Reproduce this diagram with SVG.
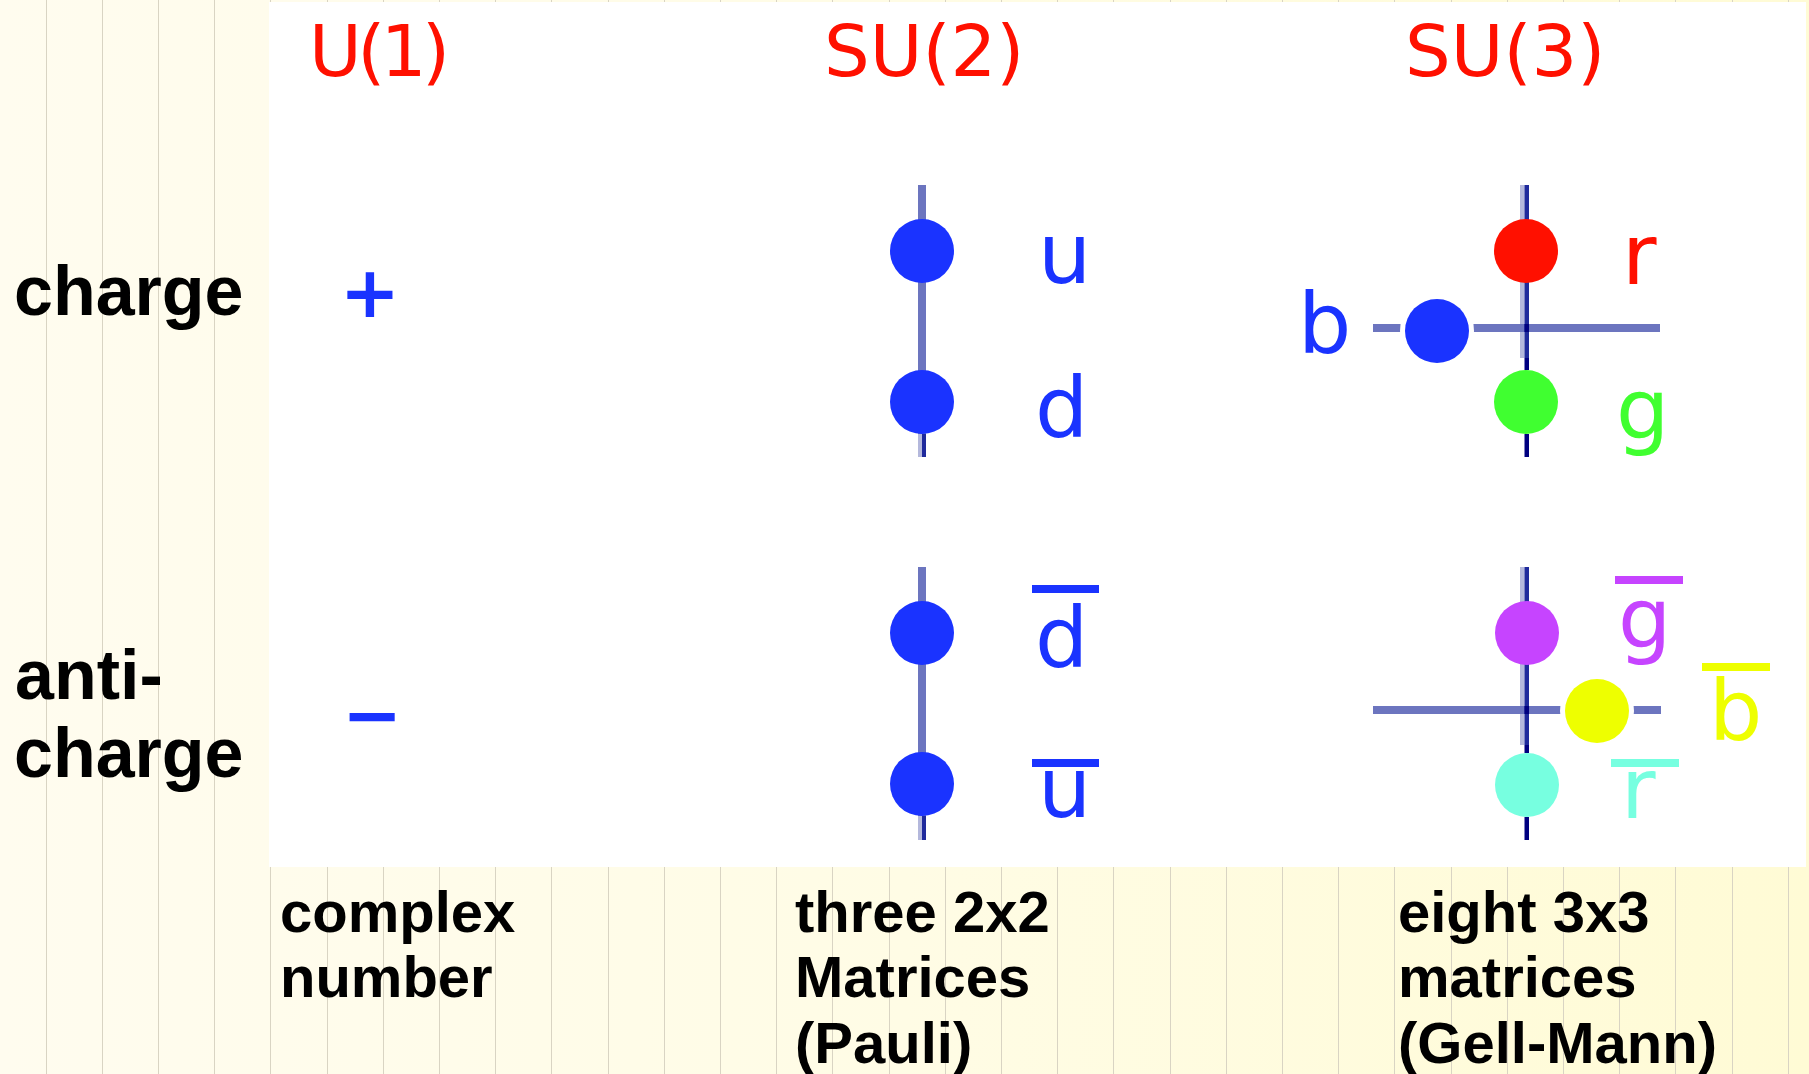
<svg xmlns="http://www.w3.org/2000/svg" width="1809" height="1074" viewBox="0 0 1809 1074">
<defs>
<linearGradient id="bg" x1="0" y1="0" x2="1" y2="0">
<stop offset="0" stop-color="#FFFCEF"/>
<stop offset="0.5" stop-color="#FFFCE5"/>
<stop offset="1" stop-color="#FFFBD5"/>
</linearGradient>
<style>
.title{font-family:"DejaVu Sans",Verdana,sans-serif;font-size:72px;fill:#FF1000}
.lbl{font-family:"DejaVu Sans",Verdana,sans-serif;font-size:84px}
.sym{font-family:"DejaVu Sans",Verdana,sans-serif;font-weight:bold;font-size:72px;fill:#1A33FF}
.row{font-family:"Liberation Sans",Arial,sans-serif;font-weight:bold;font-size:70px;fill:#000}
.foot{font-family:"Liberation Sans",Arial,sans-serif;font-weight:bold;font-size:58px;fill:#000}
.grid line{stroke:#d9d4c3;stroke-width:1}
.ax{fill:#6C75BF}
.lt{fill:#B4B8DC}
.dk{fill:#1F2A9C}
.nv{fill:#000080}
.blue{fill:#1A33FF}
.halo{stroke:#fff;stroke-width:10;paint-order:stroke}
</style>
</defs>
<rect x="0" y="0" width="1809" height="1074" fill="url(#bg)"/>
<g class="grid">
<line x1="46.5" y1="0" x2="46.5" y2="1074"/><line x1="102.5" y1="0" x2="102.5" y2="1074"/><line x1="158.5" y1="0" x2="158.5" y2="1074"/><line x1="214.5" y1="0" x2="214.5" y2="1074"/><line x1="270.5" y1="0" x2="270.5" y2="1074"/><line x1="327.5" y1="0" x2="327.5" y2="1074"/><line x1="383.5" y1="0" x2="383.5" y2="1074"/><line x1="439.5" y1="0" x2="439.5" y2="1074"/><line x1="495.5" y1="0" x2="495.5" y2="1074"/><line x1="551.5" y1="0" x2="551.5" y2="1074"/><line x1="608.5" y1="0" x2="608.5" y2="1074"/><line x1="664.5" y1="0" x2="664.5" y2="1074"/><line x1="720.5" y1="0" x2="720.5" y2="1074"/><line x1="776.5" y1="0" x2="776.5" y2="1074"/><line x1="832.5" y1="0" x2="832.5" y2="1074"/><line x1="889.5" y1="0" x2="889.5" y2="1074"/><line x1="945.5" y1="0" x2="945.5" y2="1074"/><line x1="1001.5" y1="0" x2="1001.5" y2="1074"/><line x1="1057.5" y1="0" x2="1057.5" y2="1074"/><line x1="1113.5" y1="0" x2="1113.5" y2="1074"/><line x1="1170.5" y1="0" x2="1170.5" y2="1074"/><line x1="1226.5" y1="0" x2="1226.5" y2="1074"/><line x1="1282.5" y1="0" x2="1282.5" y2="1074"/><line x1="1338.5" y1="0" x2="1338.5" y2="1074"/><line x1="1394.5" y1="0" x2="1394.5" y2="1074"/><line x1="1451.5" y1="0" x2="1451.5" y2="1074"/><line x1="1507.5" y1="0" x2="1507.5" y2="1074"/><line x1="1563.5" y1="0" x2="1563.5" y2="1074"/><line x1="1619.5" y1="0" x2="1619.5" y2="1074"/><line x1="1675.5" y1="0" x2="1675.5" y2="1074"/><line x1="1732.5" y1="0" x2="1732.5" y2="1074"/><line x1="1788.5" y1="0" x2="1788.5" y2="1074"/>
</g>
<rect id="panel" x="269" y="2" width="1537" height="865" fill="#fff"/>

<g id="col-u1-title"><text class="title" x="309" y="76" textLength="141" lengthAdjust="spacing">U(1)</text></g>
<g id="col-su2-title"><text class="title" x="824" y="76">SU(2)</text></g>
<g id="col-su3-title"><text class="title" x="1405" y="76">SU(3)</text></g>

<g id="row-charge"><text class="row" x="14" y="315">charge</text></g>
<g id="row-anticharge"><text class="row" x="15" y="699">anti-</text><text class="row" x="14" y="777">charge</text></g>

<g id="connectors">
<!-- SU(2) charge doublet -->
<rect class="ax" x="918" y="185" width="8" height="249"/>
<rect class="lt" x="918" y="434" width="4" height="23"/>
<rect class="dk" x="922" y="434" width="4" height="23"/>
<!-- SU(2) anti doublet -->
<rect class="ax" x="918" y="567" width="8" height="249"/>
<rect class="lt" x="918" y="816" width="4" height="24"/>
<rect class="dk" x="922" y="816" width="4" height="24"/>
<!-- SU(3) charge triplet -->
<rect class="lt" x="1520" y="185" width="4.5" height="173"/>
<rect class="ax" x="1373" y="324" width="287" height="8"/>
<rect class="dk" x="1524.5" y="185" width="4.5" height="173"/>
<rect class="nv" x="1524.5" y="324" width="4.5" height="8"/>
<rect class="nv" x="1524.5" y="358" width="4.5" height="12"/>
<rect class="nv" x="1524.5" y="434" width="4.5" height="23"/>
<!-- SU(3) anti triplet -->
<rect class="lt" x="1520" y="567" width="4.5" height="178"/>
<rect class="ax" x="1373" y="706" width="288" height="8"/>
<rect class="dk" x="1524.5" y="567" width="4.5" height="178"/>
<rect class="nv" x="1524.5" y="706" width="4.5" height="8"/>
<rect class="nv" x="1524.5" y="745" width="4.5" height="8"/>
<rect class="nv" x="1524.5" y="817" width="4.5" height="23"/>
</g>

<g id="u1-plus"><text class="sym" x="370" y="317" text-anchor="middle">+</text></g>
<g id="u1-minus"><text class="sym" x="372" y="740" text-anchor="middle" font-size="66">−</text></g>

<g id="su2-u"><circle cx="922" cy="251" r="32" class="blue"/><text class="lbl blue" x="1038" y="283">u</text></g>
<g id="su2-d"><circle cx="922" cy="402" r="32" class="blue"/><text class="lbl blue" x="1035" y="437">d</text></g>
<g id="su2-dbar"><circle cx="922" cy="633" r="32" class="blue"/><rect class="blue" x="1032" y="585" width="67" height="8"/><text class="lbl blue" x="1035" y="667">d</text></g>
<g id="su2-ubar"><circle cx="922" cy="784" r="32" class="blue"/><rect class="blue" x="1032" y="759" width="67" height="8"/><text class="lbl blue" x="1038" y="817">u</text></g>

<g id="su3-r"><circle cx="1526" cy="251" r="32" fill="#FF1000"/><text class="lbl" fill="#FF1000" x="1622" y="284">r</text></g>
<g id="su3-g"><circle cx="1526" cy="402" r="32" fill="#40FF30"/><text class="lbl" fill="#40FF30" x="1616" y="439">g</text></g>
<g id="su3-b"><circle cx="1437" cy="331" r="32" class="blue halo"/><text class="lbl blue" x="1298" y="353">b</text></g>
<g id="su3-gbar"><circle cx="1527" cy="633" r="32" fill="#C644FF"/><rect x="1615" y="576" width="68" height="8" fill="#C644FF"/><text class="lbl" fill="#C644FF" x="1618" y="648">g</text></g>
<g id="su3-bbar"><circle cx="1597" cy="711" r="32" fill="#EEFF00" class="halo"/><rect x="1702" y="663" width="68" height="8" fill="#EEFF00"/><text class="lbl" fill="#EEFF00" x="1709" y="740">b</text></g>
<g id="su3-rbar"><circle cx="1527" cy="785" r="32" fill="#77FFE0"/><rect x="1611" y="759" width="68" height="8" fill="#77FFE0"/><text class="lbl" fill="#77FFE0" x="1621" y="818">r</text></g>

<g id="foot-u1"><text class="foot" x="280" y="932">complex</text><text class="foot" x="280" y="997">number</text></g>
<g id="foot-su2"><text class="foot" x="795" y="932">three 2x2</text><text class="foot" x="795" y="997">Matrices</text><text class="foot" x="795" y="1063">(Pauli)</text></g>
<g id="foot-su3"><text class="foot" x="1398" y="932">eight 3x3</text><text class="foot" x="1398" y="997">matrices</text><text class="foot" x="1398" y="1063">(Gell-Mann)</text></g>
</svg>
